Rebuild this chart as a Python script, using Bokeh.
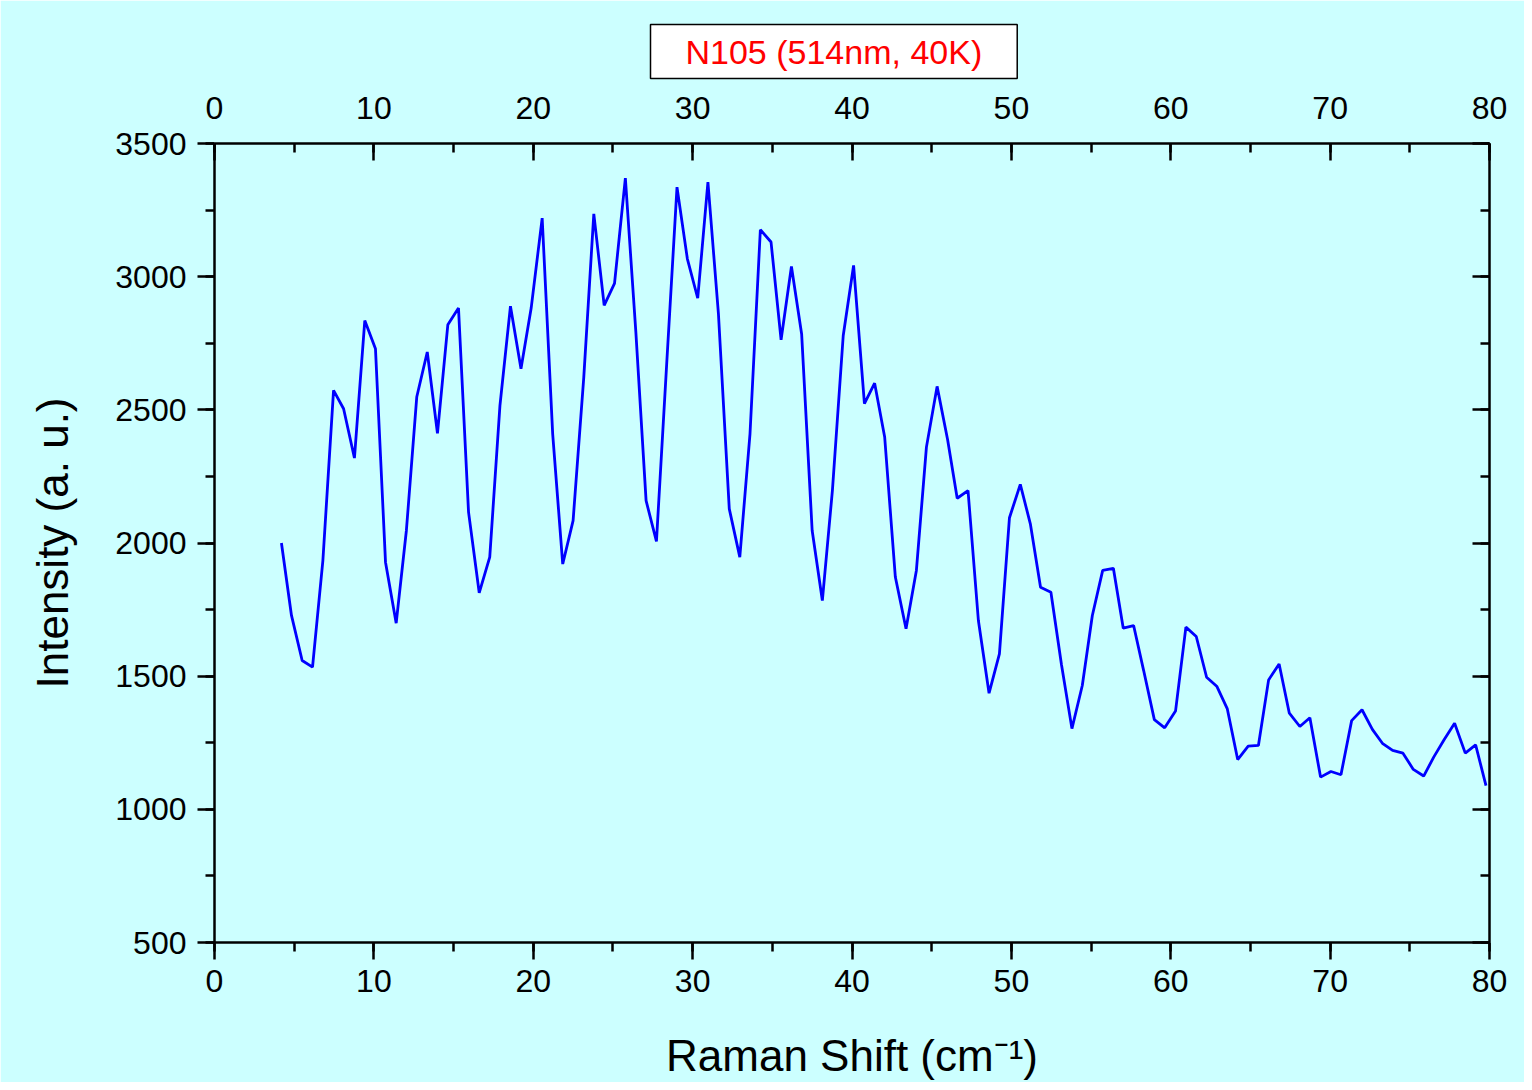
from bokeh.plotting import figure
from bokeh.models import LinearAxis, Range1d, Title, SingleIntervalTicker
from bokeh.embed import file_html
from bokeh.resources import INLINE

# Data
raman_shift = [4.2, 4.83, 5.5, 6.15, 6.8, 7.47, 8.1, 8.78, 9.43, 10.1, 10.73, 11.4, 12.04, 12.69,
               13.35, 13.99, 14.64, 15.31, 15.94, 16.61, 17.27, 17.91, 18.57, 19.23, 19.87, 20.56,
               21.22, 21.85, 22.5, 23.17, 23.8, 24.45, 25.1, 25.78, 26.44, 27.08, 27.73, 28.37,
               29.02, 29.67, 30.32, 30.96, 31.62, 32.3, 32.96, 33.6, 34.25, 34.92, 35.55, 36.2,
               36.84, 37.5, 38.14, 38.77, 39.45, 40.1, 40.78, 41.42, 42.05, 42.72, 43.39, 44.04,
               44.67, 45.34, 46.0, 46.6, 47.28, 47.93, 48.6, 49.25, 49.88, 50.56, 51.19, 51.83,
               52.48, 53.14, 53.8, 54.45, 55.08, 55.73, 56.4, 57.02, 57.67, 58.3, 58.97, 59.62,
               60.3, 60.95, 61.6, 62.25, 62.9, 63.55, 64.2, 64.86, 65.5, 66.14, 66.8, 67.44, 68.1,
               68.73, 69.4, 70.05, 70.68, 71.35, 72.0, 72.65, 73.28, 73.92, 74.57, 75.22, 75.87,
               76.5, 77.16, 77.81, 78.48, 79.13, 79.78]
intensity = [2000, 1728, 1559, 1534, 1934, 2573, 2504, 2319, 2835, 2729, 1928, 1699, 2047, 2548,
             2717, 2412, 2819, 2882, 2116, 1813, 1947, 2516, 2889, 2654, 2882, 3220, 2409, 1921,
             2084, 2622, 3236, 2892, 2975, 3370, 2790, 2159, 2006, 2670, 3336, 3067, 2919, 3355,
             2860, 2128, 1947, 2410, 3176, 3130, 2763, 3038, 2785, 2047, 1784, 2197, 2779, 3042,
             2523, 2600, 2398, 1872, 1678, 1897, 2360, 2588, 2388, 2168, 2197, 1709, 1436, 1584,
             2095, 2220, 2072, 1834, 1815, 1545, 1303, 1465, 1728, 1897, 1905, 1680, 1690, 1521,
             1337, 1306, 1369, 1684, 1649, 1496, 1461, 1377, 1187, 1237, 1240, 1486, 1546, 1361,
             1311, 1344, 1121, 1142, 1130, 1333, 1374, 1300, 1248, 1221, 1211, 1150, 1125, 1196,
             1262, 1323, 1211, 1242, 1089]

title_text = "N105 (514nm, 40K)"
x_label = "Raman Shift (cm\u207b\u00b9)"
y_label = "Intensity (a. u.)"

FONT = "Liberation Sans"
BG = "#CCFFFF"

p = figure(width=1524, height=1082, output_backend="svg", toolbar_location=None,
           x_range=Range1d(0, 80), y_range=Range1d(500, 3500),
           min_border_left=214, min_border_right=35, min_border_top=143, min_border_bottom=140)
p.background_fill_color = BG
p.border_fill_color = BG
p.outline_line_color = None
p.xgrid.visible = False
p.ygrid.visible = False

p.line(raman_shift, intensity, line_color="#0000FF", line_width=2.8)


def style_axis(ax, inward, labels=True):
    ax.axis_line_color = "black"
    ax.axis_line_width = 2.5
    ax.major_tick_line_color = "black"
    ax.major_tick_line_width = 2.5
    ax.minor_tick_line_color = "black"
    ax.minor_tick_line_width = 2.5
    if inward:
        ax.major_tick_in, ax.major_tick_out = 17, 0
        ax.minor_tick_in, ax.minor_tick_out = 9, 0
    else:
        ax.major_tick_in, ax.major_tick_out = 0, 17
        ax.minor_tick_in, ax.minor_tick_out = 0, 9
    ax.major_label_text_font = FONT
    ax.major_label_text_font_size = "32px"
    ax.major_label_text_color = "black"
    if not labels:
        ax.major_label_text_font_size = "0px"
        ax.major_label_text_alpha = 0
    ax.axis_label_text_font = FONT
    ax.axis_label_text_font_size = "44px"
    ax.axis_label_text_font_style = "normal"
    ax.axis_label_text_color = "black"


p.xaxis.ticker = SingleIntervalTicker(interval=10, num_minor_ticks=2)
p.yaxis.ticker = SingleIntervalTicker(interval=500, num_minor_ticks=2)
p.xaxis.axis_label = x_label
p.yaxis.axis_label = y_label
style_axis(p.xaxis[0], inward=False)
style_axis(p.yaxis[0], inward=False)
p.xaxis.major_label_standoff = 10
p.xaxis.axis_label_standoff = 36
p.yaxis.major_label_standoff = 11
p.yaxis.axis_label_standoff = 35

top = LinearAxis(ticker=SingleIntervalTicker(interval=10, num_minor_ticks=2))
style_axis(top, inward=True)
top.major_label_standoff = 25
p.add_layout(top, "above")

right = LinearAxis(ticker=SingleIntervalTicker(interval=500, num_minor_ticks=2))
style_axis(right, inward=True, labels=False)
p.add_layout(right, "right")

p.title = Title(text=title_text, align="left", offset=436,
                text_font=FONT, text_font_size="34px", text_font_style="normal",
                text_color="#FF0000",
                background_fill_color="white", border_line_color="black", border_line_width=1.5,
                padding=dict(left=35, right=35, top=8, bottom=8), standoff=30)

open("out.html", "w").write(file_html(p, INLINE))
